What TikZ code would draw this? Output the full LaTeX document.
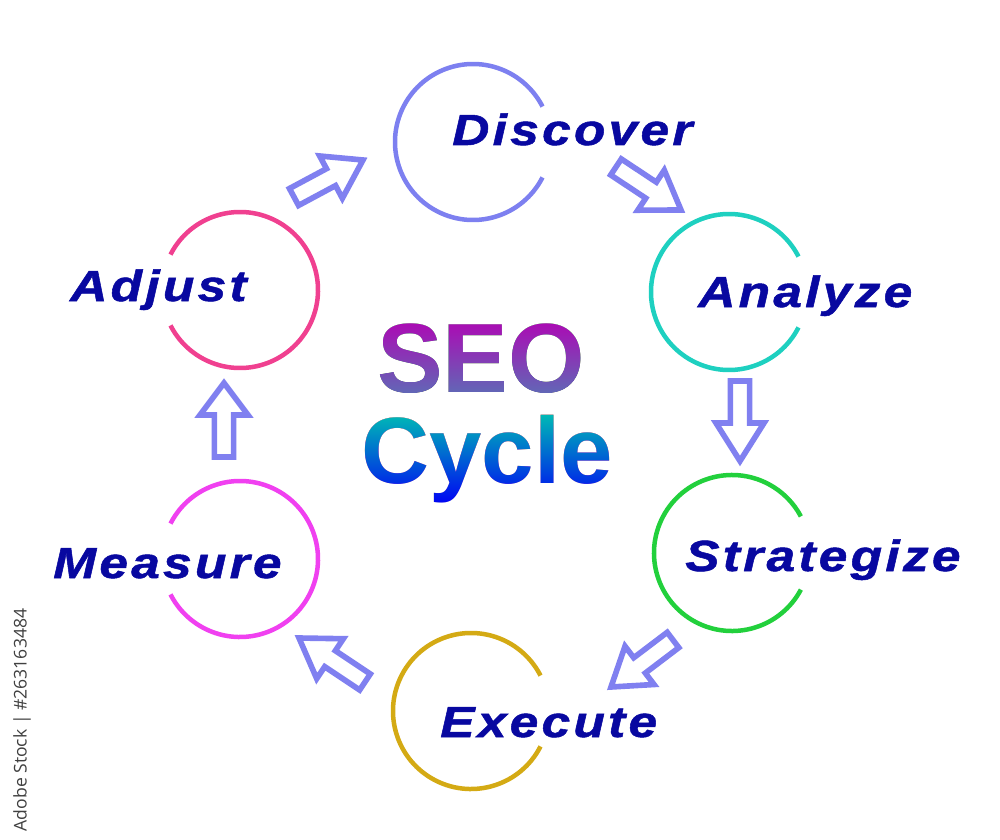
\documentclass[tikz,border=0pt]{standalone}
\usepackage{fontspec}
\usetikzlibrary{calc}
\newfontfamily\lblfont[FakeStretch=1.18,LetterSpace=7.5,FakeBold=1.2]{Liberation Sans}
\newfontfamily\titlefont{Liberation Sans}
\newfontfamily\wmfont{Open Sans}
\definecolor{lblblue}{RGB}{8,8,160}
\definecolor{arrblue}{RGB}{128,128,240}
\definecolor{discol}{RGB}{125,128,240}
\definecolor{anacol}{RGB}{30,208,192}
\definecolor{strcol}{RGB}{34,208,60}
\definecolor{execol}{RGB}{212,170,20}
\definecolor{meacol}{RGB}{240,64,240}
\definecolor{adjcol}{RGB}{240,64,144}
\tikzset{
  stage/.style={circle, minimum size=3.9cm, inner sep=0pt},
  ring/.style={line width=3.2pt},
  lbl/.style={font=\lblfont\bfseries\itshape\fontsize{31}{36}\selectfont, text=lblblue, inner sep=0pt, anchor=base west},
  blockarr/.style={draw=arrblue, line width=4pt, fill=white, line join=miter,
    to path={($(\tikztostart)!0.24cm!90:(\tikztotarget)$)
      -- ($(\tikztostart)!1.05cm!(\tikztotarget)!0.24cm!90:(\tikztotarget)$)
      -- ($(\tikztostart)!1.05cm!(\tikztotarget)!0.6cm!90:(\tikztotarget)$)
      -- (\tikztotarget)
      -- ($(\tikztostart)!1.05cm!(\tikztotarget)!0.6cm!-90:(\tikztotarget)$)
      -- ($(\tikztostart)!1.05cm!(\tikztotarget)!0.24cm!-90:(\tikztotarget)$)
      -- ($(\tikztostart)!0.24cm!-90:(\tikztotarget)$) -- cycle}},
}
\begin{document}
\begin{tikzpicture}[x=0.025cm,y=-0.025cm]
\fill[white] (0,0) rectangle (1000,840);
\useasboundingbox (0,0) rectangle (1000,840);
% stages
\node[stage] (discover) at (473,142) {};
\node[stage] (analyze) at (729,292) {};
\node[stage] (strategize) at (732,553) {};
\node[stage] (execute) at (471,711) {};
\node[stage] (measure) at (240,559) {};
\node[stage] (adjust) at (240,290) {};
\draw[ring,discol] ($(discover)+(27:78)$) arc[start angle=27,end angle=333,radius=78];
\draw[ring,anacol] ($(analyze)+(27:78)$) arc[start angle=27,end angle=333,radius=78];
\draw[ring,strcol] ($(strategize)+(28:78)$) arc[start angle=28,end angle=332,radius=78];
\draw[ring,execol] ($(execute)+(27:78)$) arc[start angle=27,end angle=333,radius=78];
\draw[ring,meacol] ($(measure)+(207:78)$) arc[start angle=207,end angle=513,radius=78];
\draw[ring,adjcol] ($(adjust)+(207:78)$) arc[start angle=207,end angle=513,radius=78];
% labels
\node[lbl] (discoverlbl) at (452,145) {Discover};
\node[lbl] (analyzelbl) at (698,307) {Analyze};
\node[lbl] (strategizelbl) at (685,571) {Strategize};
\node[lbl] (executelbl) at (440,737) {Execute};
\node[lbl] (measurelbl) at (53,578) {Measure};
\node[lbl] (adjustlbl) at (70,301) {Adjust};
% arrows
\coordinate (t1) at (294,197); \coordinate (h1) at (363,160);
\coordinate (t2) at (616,167); \coordinate (h2) at (681,210);
\coordinate (t3) at (740,381); \coordinate (h3) at (740,461);
\coordinate (t4) at (673,640); \coordinate (h4) at (611,687);
\coordinate (t5) at (365,682); \coordinate (h5) at (299,638);
\coordinate (t6) at (224,457); \coordinate (h6) at (224,383);
\foreach \i in {1,...,6}
  \draw[blockarr] (t\i) to (h\i);
% title
\node[font=\titlefont\bfseries\fontsize{70}{80}\selectfont, anchor=base, inner sep=0pt] (seo) at (481,392) {SEO};
\node[font=\titlefont\bfseries\fontsize{67}{80}\selectfont, anchor=base, inner sep=0pt] (cycle) at (487,483) {Cycle};
\shade[top color={rgb,255:red,180;green,0;blue,180}, bottom color={rgb,255:red,90;green,112;blue,182}, blend mode=lighten] (370,314) rectangle (595,400);
\shade[top color={rgb,255:red,0;green,205;blue,175}, middle color={rgb,255:red,10;green,140;blue,220}, bottom color={rgb,255:red,0;green,0;blue,245}, blend mode=lighten] (345,405) rectangle (630,505);
% stock id
\node[rotate=90, font=\wmfont\fontsize{12.5}{14}\selectfont, text=black!75, inner sep=0pt] (stockid) at (22,720) {Adobe Stock | \#263163484};
\end{tikzpicture}
\end{document}
